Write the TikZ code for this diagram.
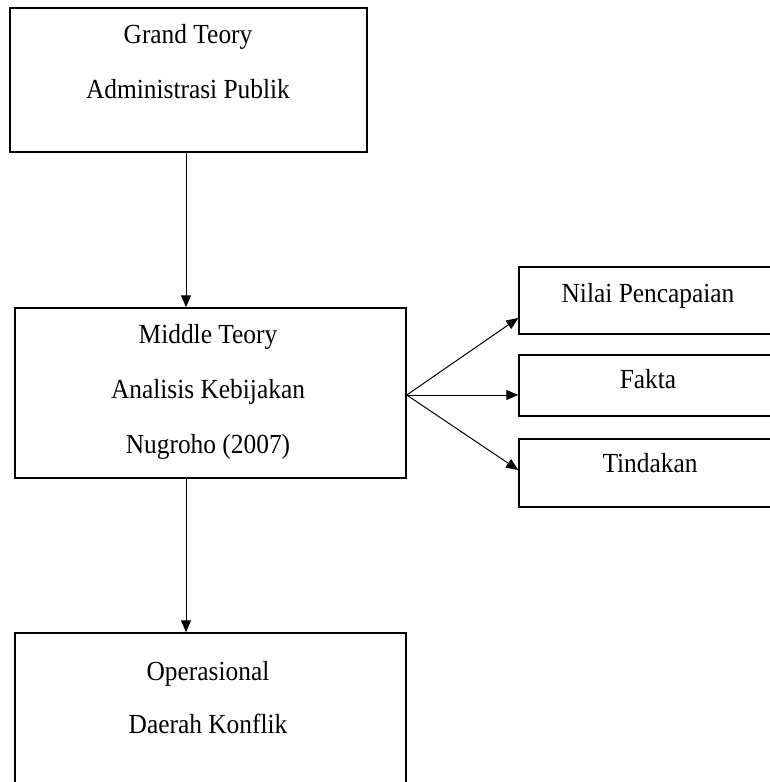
\documentclass[tikz,border=0pt]{standalone}
\usepackage{graphicx}
\usepackage{fontspec}
\setmainfont{Liberation Serif}
\usetikzlibrary{arrows.meta}
\newcommand{\narrowtxt}[1]{\scalebox{0.92}[1]{#1}}
\begin{document}
\begin{tikzpicture}[x=1pt,y=-1pt,
  box/.style={draw, line width=1.5pt, rectangle, inner sep=0pt},
  lbl/.style={anchor=base, inner sep=0pt, font=\fontsize{27.6}{33}\selectfont},
  arr/.style={line width=1pt, -{Triangle[length=12pt,width=10pt]}}]
\useasboundingbox (0,0) rectangle (770,782);
\clip (0,0) rectangle (770,782);
\node[box, minimum width=357pt, minimum height=144pt] (grand) at (188.5,80) {};
\node[box, minimum width=391pt, minimum height=170pt] (middle) at (210.5,393) {};
\node[box, minimum width=391pt, minimum height=167pt] (oper) at (210.5,716.5) {};
\node[box, minimum width=258pt, minimum height=67pt] (nilai) at (648,300.5) {};
\node[box, minimum width=258pt, minimum height=61pt] (fakta) at (648,385.5) {};
\node[box, minimum width=258pt, minimum height=68pt] (tind) at (648,473) {};
\node[lbl] (t1) at (188,43) {\narrowtxt{Grand Teory}};
\node[lbl] (t2) at (188,98) {\narrowtxt{Administrasi Publik}};
\node[lbl] (t3) at (208,343) {\narrowtxt{Middle Teory}};
\node[lbl] (t4) at (208,398) {\narrowtxt{Analisis Kebijakan}};
\node[lbl] (t5) at (208,453) {\narrowtxt{Nugroho (2007)}};
\node[lbl] (t6) at (208,680) {\narrowtxt{Operasional}};
\node[lbl] (t7) at (208,733) {\narrowtxt{Daerah Konflik}};
\node[lbl] (t8) at (648,302) {\narrowtxt{Nilai Pencapaian}};
\node[lbl] (t9) at (648,388) {\narrowtxt{Fakta}};
\node[lbl] (t10) at (650,472) {\narrowtxt{Tindakan}};
\draw[arr] ([xshift=-2.5pt]grand.south) -- ([xshift=-2.5pt]grand.south |- middle.north);
\draw[arr] ([xshift=-2.5pt]grand.south |- middle.south) -- ([xshift=-2.5pt]grand.south |- oper.north);
\draw[arr] ([yshift=-2pt]middle.east) -- ([yshift=-17.5pt]nilai.west);
\draw[arr] ([yshift=-2pt]middle.east) -- ([yshift=-9.5pt]fakta.west);
\draw[arr] ([yshift=-2pt]middle.east) -- ([yshift=3pt]tind.west);
\end{tikzpicture}
\end{document}
